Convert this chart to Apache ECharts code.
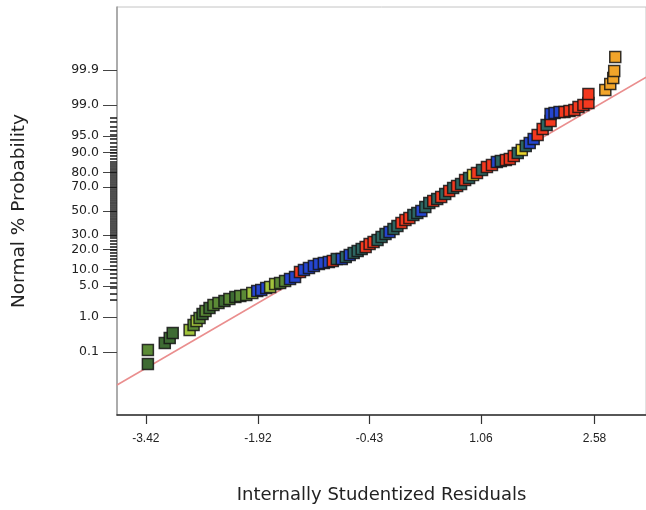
<!DOCTYPE html>
<html>
<head>
<meta charset="utf-8">
<script src="https://cdn.jsdelivr.net/npm/echarts@6/dist/echarts.min.js"></script>
<style>html,body{margin:0;padding:0;background:#fff;}#chart{width:646px;height:510px;}</style>
</head>
<body>
<div id="chart"></div>
<script>
// ---- data ----
// internally studentized residuals
const resid = [-3.393,-3.393,-3.167,-3.101,-3.061,-2.835,-2.782,-2.742,-2.702,-2.662,-2.622,-2.569,-2.516,-2.449,-2.369,-2.303,-2.223,-2.157,-2.077,-1.997,
-1.931,-1.877,-1.811,-1.758,-1.691,-1.625,-1.558,-1.492,-1.425,-1.359,-1.306,-1.239,-1.173,-1.106,-1.040,-0.973,-0.920,-0.867,-0.800,-0.747,
-0.694,-0.641,-0.588,-0.534,-0.481,-0.428,-0.375,-0.322,-0.268,-0.215,-0.162,-0.109,-0.056,-0.002,0.051,0.104,0.157,0.210,0.264,0.317,
0.370,0.423,0.476,0.529,0.583,0.636,0.689,0.742,0.795,0.849,0.902,0.955,1.008,1.075,1.141,1.208,1.274,1.327,1.394,1.447,
1.500,1.553,1.607,1.660,1.713,1.766,1.819,1.886,1.939,1.992,1.992,2.045,2.112,2.178,2.245,2.311,2.365,2.431,2.498,2.498,
2.724,2.790,2.830,2.843,2.857];
// normal scores (probit of normal % probability)
const normZ = [-3.357,-3.050,-2.896,-2.786,-2.677,-2.611,-2.501,-2.413,-2.348,-2.260,-2.194,-2.128,-2.062,-2.018,-1.975,-1.931,-1.887,-1.865,-1.843,-1.799,
-1.755,-1.733,-1.689,-1.667,-1.602,-1.580,-1.536,-1.492,-1.448,-1.338,-1.294,-1.251,-1.207,-1.163,-1.141,-1.119,-1.097,-1.053,-1.053,-1.009,
-0.965,-0.921,-0.878,-0.834,-0.790,-0.724,-0.680,-0.636,-0.570,-0.505,-0.461,-0.395,-0.329,-0.263,-0.197,-0.154,-0.088,-0.044,0.000,0.088,
0.176,0.219,0.263,0.307,0.373,0.439,0.505,0.548,0.592,0.680,0.724,0.790,0.834,0.900,0.965,1.009,1.075,1.097,1.119,1.141,
1.207,1.273,1.338,1.426,1.492,1.580,1.667,1.799,1.887,1.975,2.128,2.150,2.172,2.172,2.194,2.216,2.282,2.326,2.370,2.567,
2.655,2.786,2.918,3.072,3.379];
// colour group of each run
const group = ['DG','G','DG','DG','DG','LG','G','LG','G','DG','G','DG','G','G','DG','G','DG','G','G','LG',
'B','B','B','LG','LG','G','G','B','B','R','B','B','B','B','B','B','R','T','B','T',
'B','T','T','T','R','R','R','T','T','T','B','T','T','R','R','R','T','T','B','T',
'T','R','T','R','T','R','T','R','T','R','T','Y','R','T','R','R','B','T','R','R',
'R','T','Y','T','B','B','R','R','T','R','B','B','B','R','R','R','R','R','R','R',
'O','O','O','O','O'];
// fitted reference line end points
const lineX = [-3.806, 3.27];
const lineZ = [-3.818, 2.934];
// y-axis rug (normal scores)
const rugZ = [2.040,1.953,1.843,1.755,1.667,1.580,1.492,1.404,1.338,1.273,1.207,1.141,1.075,1.031,0.987,0.943,
0.900,0.856,0.812,0.768,0.724,0.680,0.636,0.592,0.548,0.505,0.461,0.417,0.373,0.329,0.285,0.241,0.197,0.154,0.110,0.066,0.022,
-0.022,-0.066,-0.110,-0.154,-0.197,-0.241,-0.285,-0.329,-0.373,-0.417,-0.461,-0.505,-0.548,-0.592,
-0.658,-0.724,-0.790,-0.856,-0.921,-0.987,-1.053,-1.119,-1.207,-1.294,-1.382,-1.470,-1.580,-1.689,-1.821,-1.953];
// tick labels
const xTicks = [-3.42, -1.92, -0.43, 1.06, 2.58];
const xTickLabels = ['-3.42', '-1.92', '-0.43', '1.06', '2.58'];
const yTickZ = [3.090, 2.326, 1.645, 1.282, 0.842, 0.524, 0, -0.524, -0.842, -1.282, -1.645, -2.326, -3.090];
const yTickLabels = ['99.9', '99.0', '95.0', '90.0', '80.0', '70.0', '50.0', '30.0', '20.0', '10.0', '5.0', '1.0', '0.1'];

// ---- styles ----
const groupColor = {DG:'#3e6b33', G:'#5b8a36', LG:'#a2c43c', B:'#2546cf', T:'#2d6662', R:'#f4391f', Y:'#e9d52c', O:'#f2a52a'};
const X_MIN = -3.806, X_MAX = 3.268, Y_MIN = -4.475, Y_MAX = 4.475;

const chart = echarts.init(document.getElementById('chart'), null, {renderer: 'canvas'});
const pts = resid.map((x, i) => ({value: [x, normZ[i]], itemStyle: {color: groupColor[group[i]]}}));

chart.setOption({
  animation: false,
  backgroundColor: '#fff',
  grid: {left: 117, top: 7, right: -3, bottom: 95, show: true, borderColor: '#c4c4c4', borderWidth: 1, backgroundColor: 'transparent'},
  xAxis: {
    type: 'value', min: X_MIN, max: X_MAX,
    splitLine: {show: false},
    axisLine: {show: true, onZero: false, lineStyle: {color: '#2a2a2a', width: 1.5}},
    axisTick: {show: true, customValues: xTicks, length: 9, lineStyle: {color: '#333', width: 1.2}},
    axisLabel: {customValues: xTicks, margin: 18, fontFamily: 'Liberation Sans, Arial', fontSize: 12, color: '#222',
      formatter: v => { const i = xTicks.findIndex(t => Math.abs(t - v) < 1e-6); return i >= 0 ? xTickLabels[i] : ''; }},
    name: 'Internally Studentized Residuals', nameLocation: 'middle', nameGap: 71,
    nameTextStyle: {fontFamily: 'DejaVu Sans', fontSize: 18, color: '#222'}
  },
  yAxis: {
    type: 'value', min: Y_MIN, max: Y_MAX,
    splitLine: {show: false},
    axisLine: {show: true, onZero: false, lineStyle: {color: '#9a9a9a', width: 1.5}},
    axisTick: {show: true, customValues: yTickZ, length: 14, lineStyle: {color: '#444', width: 1}},
    axisLabel: {customValues: yTickZ, margin: 18, fontFamily: 'DejaVu Sans', fontSize: 12.5, color: '#222',
      formatter: v => { const i = yTickZ.findIndex(t => Math.abs(t - v) < 1e-6); return i >= 0 ? yTickLabels[i] : ''; }},
    name: 'Normal % Probability', nameLocation: 'middle', nameGap: 88, nameRotate: 90,
    nameTextStyle: {fontFamily: 'DejaVu Sans', fontSize: 18.5, color: '#222'}
  },
  series: [
    {
      type: 'custom', z: 1, clip: false, silent: true,
      data: rugZ.map(z => [X_MIN, z]),
      renderItem: (params, api) => {
        const p = api.coord([api.value(0), api.value(1)]);
        return {type: 'line', shape: {x1: p[0] - 7, y1: p[1], x2: p[0], y2: p[1]},
          style: {stroke: 'rgba(10,10,10,0.85)', lineWidth: 1.7}};
      }
    },
    {
      type: 'line', z: 2, symbol: 'none', silent: true,
      data: lineX.map((x, i) => [x, lineZ[i]]),
      lineStyle: {color: '#ea8e8e', width: 1.6}
    },
    {
      type: 'scatter', z: 3, symbol: 'rect', symbolSize: 11,
      data: pts,
      itemStyle: {borderColor: 'rgba(20,20,20,0.85)', borderWidth: 1.5, opacity: 1}
    }
  ]
});
</script>
</body>
</html>
